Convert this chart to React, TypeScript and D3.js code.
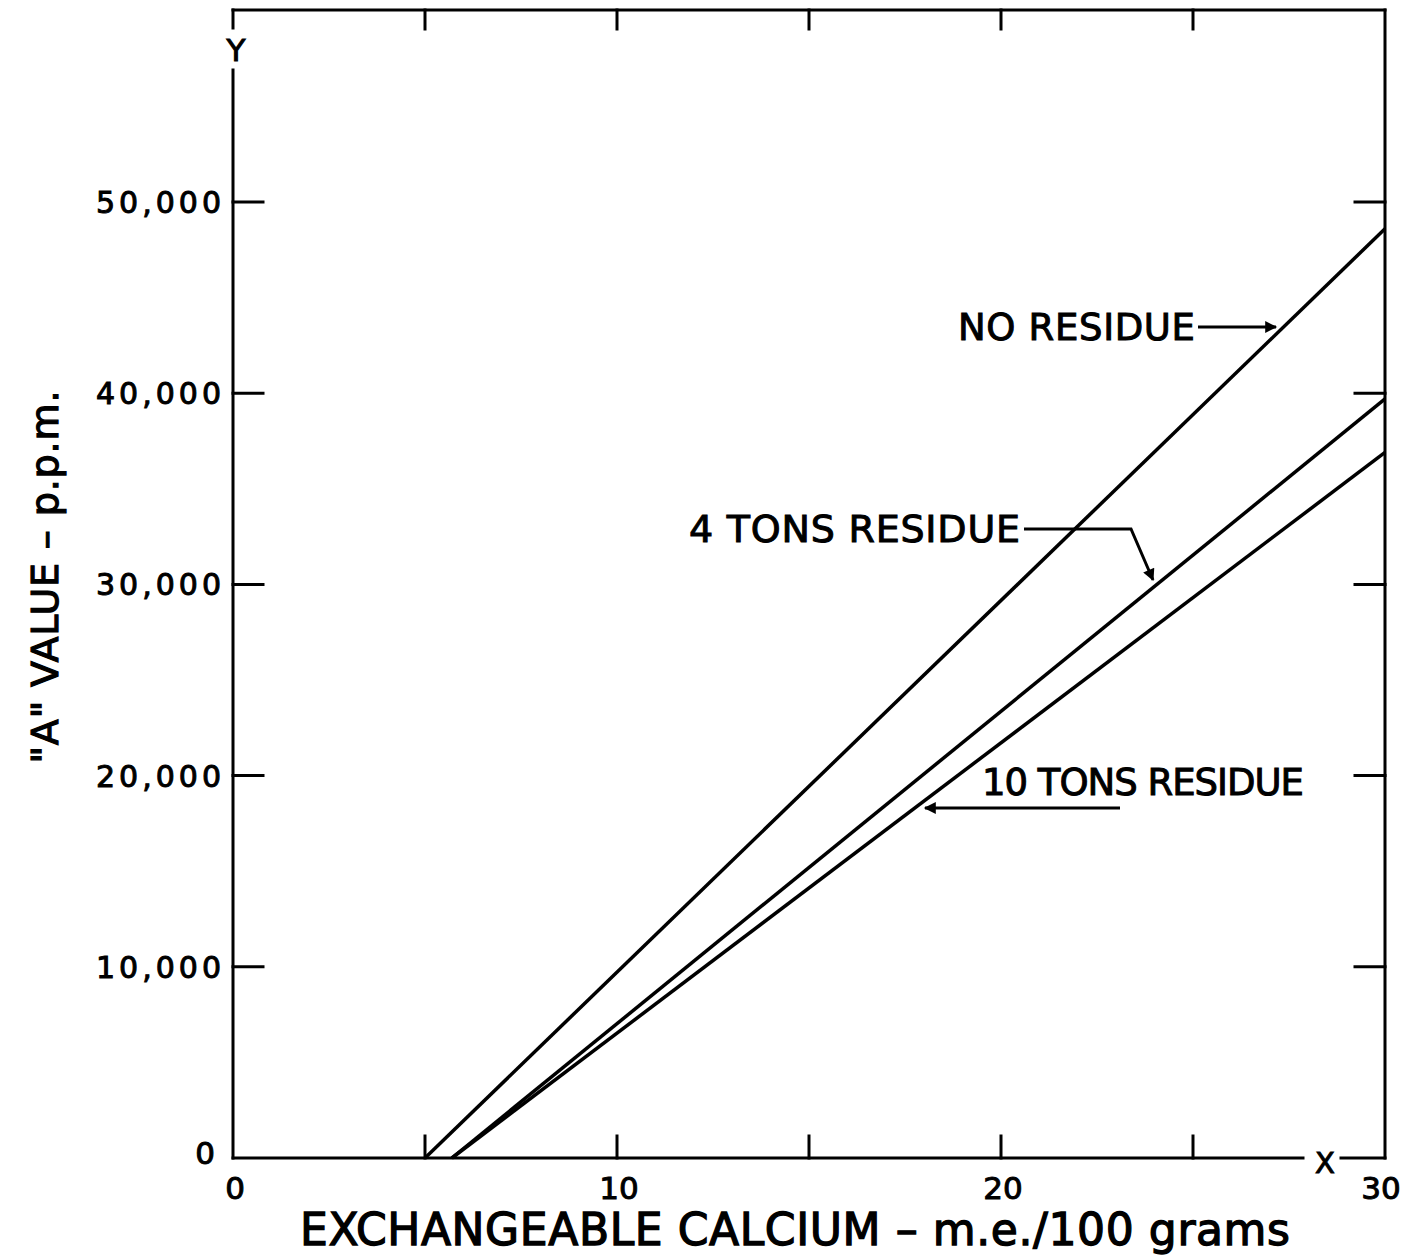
import React from "react";
import * as d3 from "d3";

const seriesNames = ["NO RESIDUE", "4 TONS RESIDUE", "10 TONS RESIDUE"];
const seriesX = [
  [5.0, 30],
  [5.7, 30],
  [5.7, 30],
];
const seriesY = [
  [0, 48600],
  [0, 39700],
  [0, 36900],
];
const yTicks = [10000, 20000, 30000, 40000, 50000];
const yTickLabels = ["10,000", "20,000", "30,000", "40,000", "50,000"];
const xMinorTicks = [5, 10, 15, 20, 25];
const xTickLabels = [
  { v: 0, t: "0" },
  { v: 10, t: "10" },
  { v: 20, t: "20" },
  { v: 30, t: "30" },
];

const FONT = "'DejaVu Sans', sans-serif";

export default function App() {
  const x = d3.scaleLinear().domain([0, 30]).range([233, 1385]);
  const y = d3.scaleLinear().domain([0, 50000]).range([1158, 202]);
  const line = d3
    .line<[number, number]>()
    .x((d) => x(d[0]))
    .y((d) => y(d[1]));

  const top = 10;
  const bottom = y(0);
  const left = x(0);
  const right = x(30);
  const sw = 3;
  const ts = { stroke: "#000", strokeWidth: 1 };

  return (
    <svg
      width={1405}
      height={1258}
      style={{ position: "absolute", left: 0, top: 0, background: "#fff" }}
      fontFamily={FONT}
    >
      <rect x={0} y={0} width={1405} height={1258} fill="#fff" />
      <defs>
        <marker id="ah" viewBox="0 0 10 10" refX="9" refY="5" markerWidth="5" markerHeight="4" orient="auto" markerUnits="strokeWidth">
          <path d="M0,0 L10,5 L0,10 Z" fill="#000" />
        </marker>
      </defs>
      {/* frame */}
      <g stroke="#000" strokeWidth={sw} fill="none" strokeLinecap="square">
        <line x1={left} y1={top} x2={right} y2={top} />
        <line x1={left} y1={top} x2={left} y2={28} />
        <line x1={left} y1={70} x2={left} y2={bottom} />
        <line x1={right} y1={top} x2={right} y2={bottom} />
        <line x1={left} y1={bottom} x2={1303} y2={bottom} />
        <line x1={1341} y1={bottom} x2={right} y2={bottom} />
        {yTicks.map((t) => (
          <g key={t}>
            <line x1={left} y1={y(t)} x2={left + 30} y2={y(t)} />
            <line x1={right - 30} y1={y(t)} x2={right} y2={y(t)} />
          </g>
        ))}
        {xMinorTicks.map((t) => (
          <g key={t}>
            <line x1={x(t)} y1={bottom} x2={x(t)} y2={bottom - 22} />
            <line x1={x(t)} y1={top} x2={x(t)} y2={top + 19} />
          </g>
        ))}
      </g>
      <text x={236} y={61} fontSize={31} textAnchor="middle" {...ts}>Y</text>
      <text x={1325} y={1173} fontSize={29} textAnchor="middle" {...ts}>X</text>

      {/* y tick labels */}
      {yTicks.map((t, i) => (
        <text key={t} x={221} y={y(t) + 11} fontSize={30} textAnchor="end" textLength={125} lengthAdjust="spacing" {...ts}>
          {yTickLabels[i]}
        </text>
      ))}
      <text x={215} y={y(0) + 6} fontSize={31} textAnchor="end" {...ts}>0</text>

      {/* x tick labels */}
      {xTickLabels.map((d) => (
        <text key={d.v} x={d.v === 30 ? x(d.v) - 4 : x(d.v) + 2} y={1199} fontSize={31} textAnchor="middle" {...ts}>
          {d.t}
        </text>
      ))}

      {/* axis titles */}
      <text x={300} y={1245} fontSize={44} textLength={990} lengthAdjust="spacing" {...ts} strokeWidth={1.3}>
        EXCHANGEABLE CALCIUM – m.e./100 grams
      </text>
      <text
        transform="translate(58,577) rotate(-90)"
        fontSize={38}
        textAnchor="middle"
        textLength={373}
        lengthAdjust="spacing"
        {...ts}
        strokeWidth={1.2}
      >
        "A" VALUE – p.p.m.
      </text>

      {/* series */}
      {seriesX.map((xs, i) => (
        <path
          key={seriesNames[i]}
          d={line(xs.map((v, j) => [v, seriesY[i][j]]) as [number, number][]) || ""}
          fill="none"
          stroke="#000"
          strokeWidth={3.5}
        />
      ))}

      {/* labels & arrows */}
      <text x={958} y={340} fontSize={37} textLength={237} lengthAdjust="spacing" {...ts}>{seriesNames[0]}</text>
      <line x1={1198} y1={327} x2={1276} y2={327} stroke="#000" strokeWidth={3} markerEnd="url(#ah)" />

      <text x={689} y={542} fontSize={38} textLength={331} lengthAdjust="spacing" {...ts}>{seriesNames[1]}</text>
      <path d="M1024,529 L1131,529 L1153,580" fill="none" stroke="#000" strokeWidth={3} markerEnd="url(#ah)" />

      <text x={982} y={795} fontSize={37} textLength={322} lengthAdjust="spacing" {...ts}>{seriesNames[2]}</text>
      <line x1={1120} y1={808} x2={925} y2={808} stroke="#000" strokeWidth={3} markerEnd="url(#ah)" />
    </svg>
  );
}
